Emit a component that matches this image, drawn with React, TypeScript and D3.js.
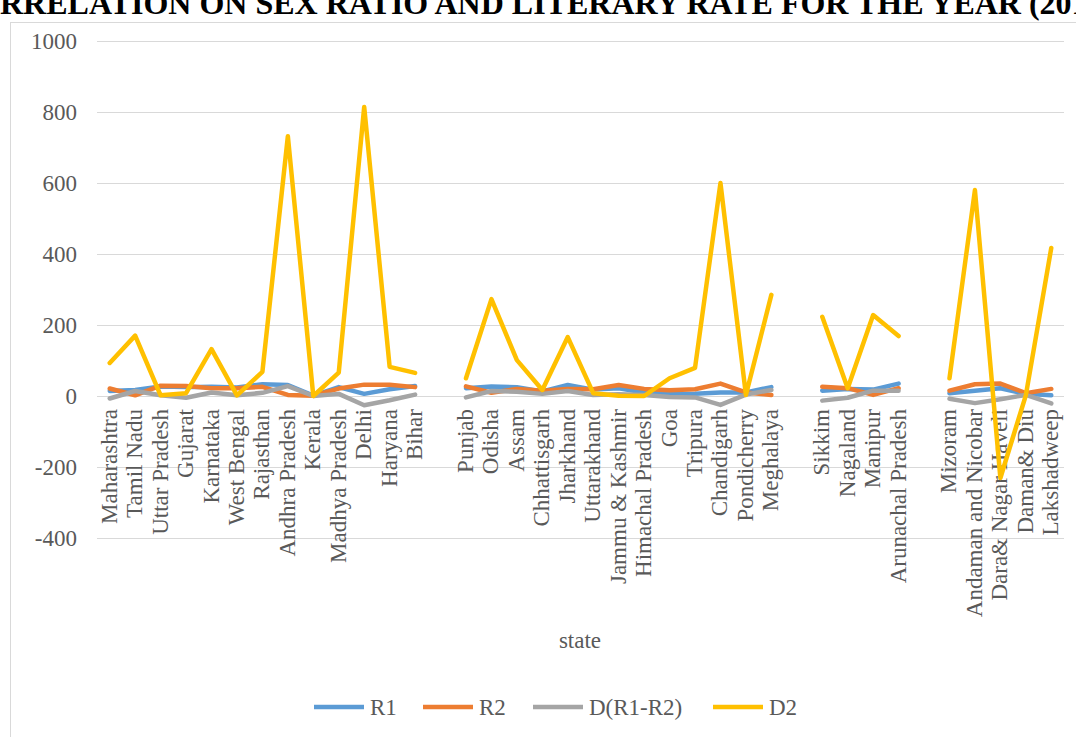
import React from "react";
import * as d3 from "d3";

const states: string[] = [
  "Maharashtra", "Tamil Nadu", "Uttar Pradesh", "Gujarat", "Karnataka", "West Bengal", "Rajasthan",
  "Andhra Pradesh", "Kerala", "Madhya Pradesh", "Delhi", "Haryana", "Bihar",
  "",
  "Punjab", "Odisha", "Assam", "Chhattisgarh", "Jharkhand", "Uttarakhand", "Jammu & Kashmir",
  "Himachal Pradesh", "Goa", "Tripura", "Chandigarh", "Pondicherry", "Meghalaya",
  "",
  "Sikkim", "Nagaland", "Manipur", "Arunachal Pradesh",
  "",
  "Mizoram", "Andaman and Nicobar", "Dara& Nagar Haveli", "Daman& Diu", "Lakshadweep",
];

const r1: (number | null)[] = [
  14, 17, 27, 25, 26, 24, 33, 31, 1, 25, 6, 19, 28,
  null,
  22, 27, 25, 13, 31, 18, 22, 10, 5, 6, 10, 10, 25,
  null,
  15, 20, 18, 35,
  null,
  8, 15, 22, 6, 2,
];

const r2: (number | null)[] = [
  21, 2, 29, 28, 22, 22, 26, 3, 1, 21, 32, 32, 25,
  null,
  27, 9, 20, 15, 20, 19, 31, 20, 16, 19, 35, 10, 3,
  null,
  26, 22, 3, 22,
  null,
  15, 33, 35, 8, 20,
];

const dR: (number | null)[] = [
  -7, 14, 2, -5, 10, 2, 9, 28, 0, 6, -26, -12, 4,
  null,
  -4, 14, 12, 6, 14, 3, 5, 3, -3, -4, -25, 4, 17,
  null,
  -13, -5, 15, 15,
  null,
  -8, -20, -9, 3, -21,
];

const d2: (number | null)[] = [
  93, 170, 2, 8, 132, 2, 68, 732, 0, 66, 814, 82, 65,
  null,
  50, 273, 101, 17, 166, 8, 1, 0, 50, 79, 600, 3, 285,
  null,
  223, 22, 228, 169,
  null,
  50, 580, -231, 2, 417,
];

const yTicks = [-400, -200, 0, 200, 400, 600, 800, 1000];

const series = [
  { name: "R1", values: r1, color: "#5B9BD5" },
  { name: "R2", values: r2, color: "#ED7D31" },
  { name: "D(R1-R2)", values: dR, color: "#A5A5A5" },
  { name: "D2", values: d2, color: "#FFC000" },
];

const legendX = [314, 423, 533, 713];

const FONT = "'Liberation Serif', 'Times New Roman', serif";
const TEXT = "#595959";

export default function App() {
  const W = 1076;
  const H = 737;
  const x = d3
    .scaleBand<number>()
    .domain(d3.range(states.length))
    .range([97, 1064]);
  const y = d3.scaleLinear().domain([-400, 1000]).range([538, 41]);
  const cx = (i: number) => (x(i) as number) + x.bandwidth() / 2;

  const line = d3
    .line<number | null>()
    .defined((d) => d !== null)
    .x((_, i) => cx(i))
    .y((d) => y(d as number));

  return (
    <div style={{ position: "fixed", left: 0, top: 0, width: W, height: H, background: "#fff" }}>
      <svg width={W} height={H} style={{ display: "block", fontFamily: FONT }}>
        <rect x={0} y={0} width={W} height={H} fill="#fff" />
        <text
          x={-48}
          y={14}
          fontSize={32}
          fontWeight="bold"
          fill="#000"
          fontFamily={FONT}
        >
          CORRELATION ON SEX RATIO AND LITERARY RATE FOR THE YEAR (2011)
        </text>
        <rect x={10.5} y={22.5} width={1200} height={900} fill="none" stroke="#d9d9d9" strokeWidth={1} />
        {yTicks.map((t) => (
          <g key={t}>
            <line x1={97} x2={1064} y1={Math.round(y(t)) + 0.5} y2={Math.round(y(t)) + 0.5} stroke="#d9d9d9" strokeWidth={1} />
            <text x={77} y={y(t)} dy="0.35em" textAnchor="end" fontSize={23} fill={TEXT}>
              {t}
            </text>
          </g>
        ))}
        {states.map((s, i) =>
          s ? (
            <text
              key={i}
              transform={`translate(${cx(i) + 7},409) rotate(-90)`}
              textAnchor="end"
              fontSize={23}
              fill={TEXT}
            >
              {s}
            </text>
          ) : null
        )}
        {series.map((s) => (
          <path
            key={s.name}
            d={line(s.values) || ""}
            fill="none"
            stroke={s.color}
            strokeWidth={4.5}
            strokeLinejoin="round"
            strokeLinecap="round"
          />
        ))}
        <text x={580} y={648} textAnchor="middle" fontSize={23} fill={TEXT}>
          state
        </text>
        {series.map((s, i) => (
          <g key={s.name}>
            <line x1={legendX[i]} x2={legendX[i] + 50} y1={707} y2={707} stroke={s.color} strokeWidth={4.5} />
            <text x={legendX[i] + 56} y={707} dy="0.35em" fontSize={23} fill={TEXT}>
              {s.name}
            </text>
          </g>
        ))}
      </svg>
    </div>
  );
}
